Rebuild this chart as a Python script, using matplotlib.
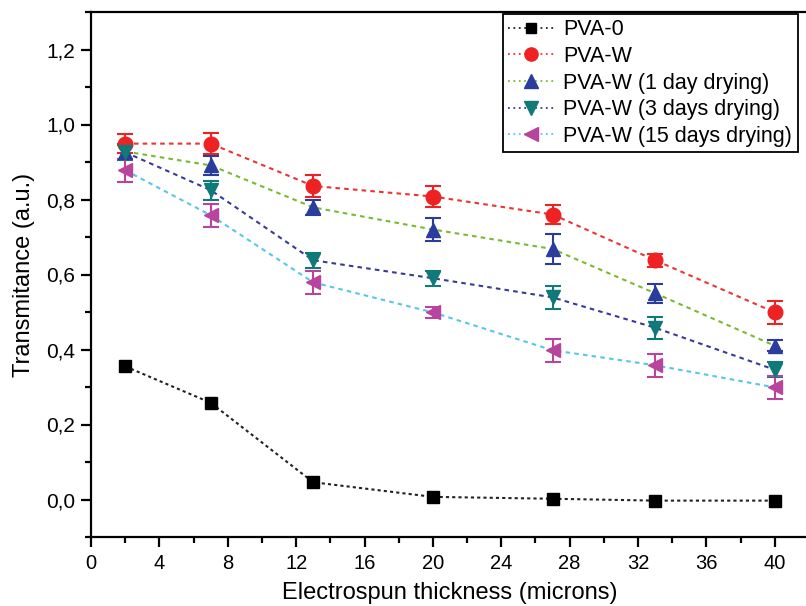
import numpy as np
import matplotlib
matplotlib.use("Agg")
import matplotlib.pyplot as plt
from matplotlib.ticker import MultipleLocator, FuncFormatter
from matplotlib.lines import Line2D

plt.rcParams["font.family"] = ["Liberation Sans", "DejaVu Sans"]

thickness = [2, 7, 13, 20, 27, 33, 40]

pva0 = [0.355, 0.258, 0.046, 0.007, 0.002, -0.003, -0.003]
pva_w = [0.949, 0.949, 0.836, 0.808, 0.760, 0.638, 0.499]
pva_w_1d = [0.928, 0.891, 0.779, 0.720, 0.668, 0.550, 0.410]
pva_w_3d = [0.926, 0.825, 0.638, 0.590, 0.539, 0.458, 0.346]
pva_w_15d = [0.878, 0.758, 0.579, 0.499, 0.398, 0.358, 0.299]

err_w = [0.025, 0.028, 0.030, 0.028, 0.025, 0.018, 0.030]
err_1d = [0.020, 0.025, 0.020, 0.030, 0.040, 0.025, 0.015]
err_3d = [0.020, 0.025, 0.020, 0.020, 0.030, 0.030, 0.020]
err_15d = [0.030, 0.030, 0.030, 0.015, 0.030, 0.030, 0.030]

labels = ["PVA-0", "PVA-W", "PVA-W (1 day drying)",
          "PVA-W (3 days drying)", "PVA-W (15 days drying)"]

series = [
    # values, errors, line colour, marker colour, marker
    (pva0, None, "#222222", "black", "s"),
    (pva_w, err_w, "#ee3333", "#ee2222", "o"),
    (pva_w_1d, err_1d, "#77bb33", "#2a3c9c", "^"),
    (pva_w_3d, err_3d, "#3a3a9a", "#0f7a78", "v"),
    (pva_w_15d, err_15d, "#55c8ea", "#b8449e", "<"),
]

fig = plt.figure(figsize=(8.06, 6.06), dpi=100)
ax = fig.add_axes([91 / 806, 1 - 537 / 606, 718 / 806, 525 / 606])

handles = []
for (y, err, lc, mc, mk), lab in zip(series, labels):
    dashes = (1.5, 1.5) if mk == "s" else (2.2, 2.0)
    ax.plot(thickness, y, color=lc, lw=1.5, dashes=dashes, zorder=2)
    if err is not None:
        ax.errorbar(thickness, y, yerr=err, fmt="none", ecolor=mc,
                    elinewidth=1.5, capsize=6, capthick=1.5, zorder=3)
    ax.plot(thickness, y, ls="none", marker=mk, ms=10.5 if mk != "s" else 8.5,
            color=mc, mec=mc, zorder=4)
    handles.append(Line2D([], [], color=lc, lw=1.3, ls=(0, (1, 2)),
                          marker=mk, ms=9.5 if mk != "s" else 7.5,
                          mfc=mc, mec=mc))

ax.set_xlim(0, 42)
ax.set_ylim(-0.1, 1.3)
ax.xaxis.set_major_locator(MultipleLocator(4))
ax.xaxis.set_minor_locator(MultipleLocator(2))
ax.yaxis.set_major_locator(MultipleLocator(0.2))
ax.yaxis.set_minor_locator(MultipleLocator(0.1))
ax.yaxis.set_major_formatter(FuncFormatter(lambda v, p: f"{v:.1f}".replace(".", ",").replace("-0,0", "0,0")))

for s in ax.spines.values():
    s.set_linewidth(1.6)
ax.tick_params(which="major", direction="out", length=7.5, width=1.6,
               top=False, right=False)
ax.tick_params(axis="y", which="major", labelsize=15, pad=4)
ax.tick_params(axis="x", which="major", labelsize=14.5, pad=5)
ax.tick_params(which="minor", direction="out", length=4.5, width=1.6,
               top=False, right=False)

ax.set_xlabel("Electrospun thickness (microns)", fontsize=17, labelpad=6)
ax.set_ylabel("Transmitance (a.u.)", fontsize=17, labelpad=8)

leg = ax.legend(handles, labels, loc="upper left",
                bbox_to_anchor=(503 / 806, 1 - 14 / 606),
                bbox_transform=fig.transFigure, fontsize=15.5,
                frameon=True, fancybox=False, framealpha=1,
                handlelength=2.1, handletextpad=0.45, labelspacing=0.26,
                borderpad=0.25, borderaxespad=0)
leg.get_frame().set_edgecolor("black")
leg.get_frame().set_linewidth(1.3)

fig.savefig("out.png", dpi=100)
